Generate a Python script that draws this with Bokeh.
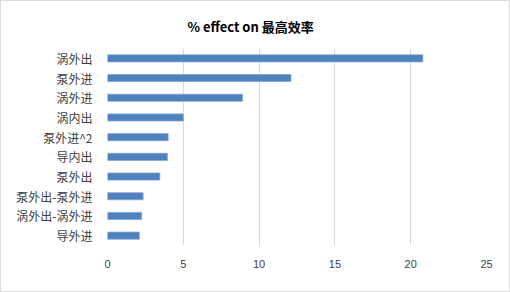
from bokeh.plotting import figure
from bokeh.models import FactorRange, ColumnDataSource
from bokeh.embed import file_html
from bokeh.resources import INLINE

factors = ["涡外出", "泵外进", "涡外进", "涡内出", "泵外进^2", "导内出", "泵外出",
           "泵外出-泵外进", "涡外出-涡外进", "导外进"]
effects = [20.8, 12.1, 8.9, 5.0, 4.0, 3.95, 3.45, 2.35, 2.25, 2.1]
x_ticks = [0, 5, 10, 15, 20, 25]
title_text = "% effect on 最高效率"

W, H = 510, 292
p = figure(width=W, height=H, output_backend="svg", toolbar_location=None,
           y_range=FactorRange(factors=list(reversed(factors))), x_range=(0, 25),
           min_border_left=106, min_border_right=25, min_border_top=46, min_border_bottom=48,
           title=title_text)
p.background_fill_color = "white"
p.border_fill_color = "white"
p.outline_line_color = None

p.title.align = "left"
p.title.offset = 80
p.title.standoff = 26
p.title.text_line_height = 0.8
p.title.text_font = "Noto Sans CJK SC"
p.title.text_font_size = "13px"
p.title.text_font_style = "bold"
p.title.text_color = "#000000"

src = ColumnDataSource(dict(y=factors, right=effects))
p.hbar(y="y", left=0, right="right", height=0.36, source=src,
       fill_color="#4f81bd", line_color="#7ea3d3", line_width=0.8)

p.xaxis.ticker = x_ticks
p.xaxis.axis_line_color = None
p.xaxis.major_tick_line_color = None
p.xaxis.minor_tick_line_color = None
p.xaxis.major_label_standoff = 8
p.xaxis.major_label_text_font = "Liberation Sans"
p.xaxis.major_label_text_font_size = "11px"
p.xaxis.major_label_text_color = "#404040"

p.yaxis.axis_line_color = None
p.yaxis.major_tick_line_color = None
p.yaxis.minor_tick_line_color = None
p.yaxis.major_label_standoff = 9
p.yaxis.major_label_text_font = "Noto Sans CJK SC"
p.yaxis.major_label_text_font_size = "12px"
p.yaxis.major_label_text_color = "#404040"

p.xgrid.grid_line_color = "#d9d9d9"
p.ygrid.grid_line_color = None

p.styles = {"border": "1.5px solid #dcdcdc", "box-sizing": "border-box"}

open("out.html", "w").write(file_html(p, INLINE))
